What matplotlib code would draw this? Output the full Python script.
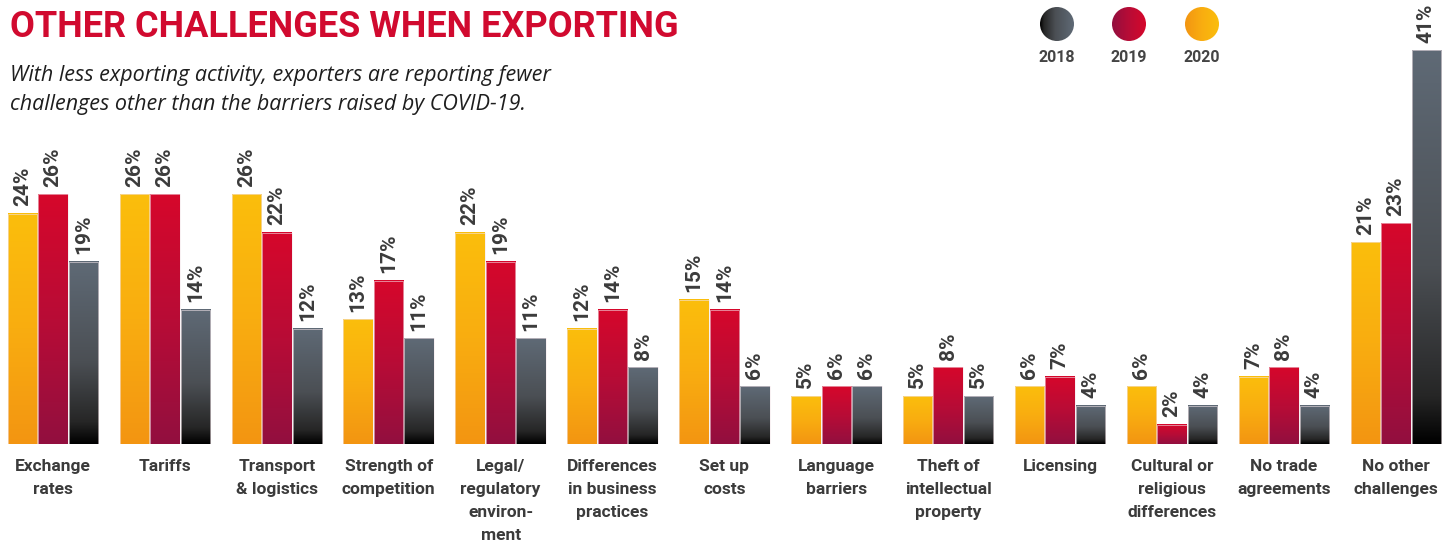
"""Other challenges when exporting -- grouped bars, 2020 / 2019 / 2018."""

import numpy as np
import matplotlib
matplotlib.use("Agg")
import matplotlib.pyplot as plt
from matplotlib.colors import LinearSegmentedColormap
from matplotlib.patches import Circle, Rectangle

categories = [
    "Exchange\nrates", "Tariffs", "Transport\n& logistics", "Strength of\ncompetition",
    "Legal/\nregulatory\nenviron-\nment", "Differences\nin business\npractices",
    "Set up\ncosts", "Language\nbarriers", "Theft of\nintellectual\nproperty",
    "Licensing", "Cultural or\nreligious\ndifferences", "No trade\nagreements",
    "No other\nchallenges",
]
years = ["2020", "2019", "2018"]
values_2020 = [24, 26, 26, 13, 22, 12, 15, 5, 5, 6, 6, 7, 21]
values_2019 = [26, 26, 22, 17, 19, 14, 14, 6, 8, 7, 2, 8, 23]
values_2018 = [19, 14, 12, 11, 11, 8, 6, 6, 5, 4, 4, 4, 41]

TITLE = "OTHER CHALLENGES WHEN EXPORTING"
SUBTITLE = ("With less exporting activity, exporters are reporting fewer\n"
            "challenges other than the barriers raised by COVID-19.")

# bottom -> top colour ramps, one per year
cmaps = {
    "2020": LinearSegmentedColormap.from_list("y", ["#f39512", "#f9ad10", "#fbbe0c"]),
    "2019": LinearSegmentedColormap.from_list("r", ["#920f3f", "#b80c36", "#d6072b"]),
    "2018": LinearSegmentedColormap.from_list(
        "g", [(0, "#000000"), (0.12, "#262626"), (0.45, "#4b4f54"), (1, "#5f6a76")]),
}

LABEL = "#3b3b3b"
RED = "#d10a2f"
TXT = ["Roboto", "DejaVu Sans"]

W, H, DPI = 1451, 543, 100
fig = plt.figure(figsize=(W / DPI, H / DPI), dpi=DPI)

# pixel geometry: group pitch ~112 px, baseline at y=444, ~9.6 px per percent
pitch, c0 = 111.9, 53.0
base_px, px_per = 444.0, 9.6
ax = fig.add_axes([0, (H - base_px) / H, 1, base_px / H])
ax.set_xlim(-c0 / pitch, (W - c0) / pitch)
ax.set_ylim(0, base_px / px_per)
ax.axis("off")

bw = 29.5 / pitch
step = 30.5 / pitch
grad = np.linspace(0, 1, 256).reshape(-1, 1)
series = [values_2020, values_2019, values_2018]

for j, (yr, vals) in enumerate(zip(years, series)):
    for i, v in enumerate(vals):
        x0 = i + (j - 1) * step - bw / 2
        ax.imshow(grad, cmap=cmaps[yr], origin="lower", aspect="auto",
                  extent=[x0, x0 + bw, 0, v], zorder=2, interpolation="bilinear")
        ax.add_patch(Rectangle((x0, 0), bw, v, fill=False, lw=0.4,
                               edgecolor="#f4e6ea", zorder=3))
        ax.text(x0 + bw / 2, v + 0.8, f"{v}%", rotation=90, ha="center",
                va="bottom", fontsize=15, fontweight="bold", color=LABEL,
                family=TXT, zorder=4)

for i, cat in enumerate(categories):
    ax.text(i, -1.6, cat, ha="center", va="top", fontsize=12.5,
            fontweight="bold", color=LABEL, family=TXT, linespacing=1.65)

fig.text(10 / W, 1 - 9 / H, TITLE, ha="left", va="top", fontsize=26,
         fontweight="bold", color=RED, family=TXT)
fig.text(10 / W, 1 - 65 / H, SUBTITLE, ha="left", va="top", fontsize=15.5,
         style="italic", color="#1e1e1e", linespacing=1.5,
         family=["Open Sans", "DejaVu Sans"])

# legend: horizontally shaded dots with the year underneath
lax = fig.add_axes([0, 0, 1, 1])
lax.set_xlim(0, W)
lax.set_ylim(H, 0)
lax.axis("off")
hgrad = np.linspace(0, 1, 256).reshape(1, -1)
for yr, cx in zip(["2018", "2019", "2020"], [1057, 1129, 1202]):
    im = lax.imshow(hgrad, cmap=cmaps[yr], aspect="auto",
                    extent=[cx - 17, cx + 17, 41, 7], interpolation="bilinear")
    im.set_clip_path(Circle((cx, 24), 17, transform=lax.transData))
    lax.text(cx, 58, yr, ha="center", va="center", fontsize=11.5,
             fontweight="bold", color="#444444", family=TXT)

fig.savefig("out.png", dpi=DPI)
